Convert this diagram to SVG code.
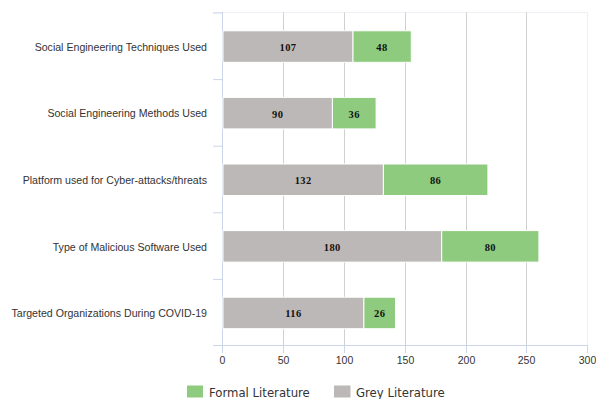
<svg xmlns="http://www.w3.org/2000/svg" width="596" height="399" viewBox="0 0 596 399">
  <style>
    .grid { stroke: #d0d0d0; stroke-width: 1; fill: none; }
    .frame { stroke: #eef1f6; stroke-width: 1; fill: none; }
    .axis { stroke: #ccd6eb; stroke-width: 1; fill: none; }
    .grey { fill: #bcb8b8; stroke: #ffffff; stroke-width: 1; }
    .green { fill: #8fcb7e; stroke: #ffffff; stroke-width: 1; }
    .cat { font-family: "Liberation Sans", Arial, sans-serif; font-size: 10.6px; fill: #333333; text-anchor: end; }
    .tick { font-family: "Liberation Sans", Arial, sans-serif; font-size: 10.5px; fill: #333333; text-anchor: middle; }
    .val { font-family: "Liberation Serif", "Times New Roman", serif; font-size: 10.5px; font-weight: bold; letter-spacing: 0.4px; fill: #111111; text-anchor: middle; }
    .leg { font-family: "DejaVu Sans", sans-serif; font-size: 11.7px; fill: #333333; }
  </style>
  <rect width="596" height="399" fill="#ffffff"/>

  <!-- plot frame and grid -->
  <g id="grid">
    <line class="frame" x1="213" y1="12.5" x2="588" y2="12.5"/>
    <line class="frame" x1="587.5" y1="12.5" x2="587.5" y2="345.5"/>
    <line class="grid" x1="283.5" y1="12.5" x2="283.5" y2="345.5"/>
    <line class="grid" x1="344.5" y1="12.5" x2="344.5" y2="345.5"/>
    <line class="grid" x1="405.5" y1="12.5" x2="405.5" y2="345.5"/>
    <line class="grid" x1="466.5" y1="12.5" x2="466.5" y2="345.5"/>
    <line class="grid" x1="526.5" y1="12.5" x2="526.5" y2="345.5"/>
  </g>

  <!-- axes with ticks -->
  <g id="axes">
    <line class="axis" x1="222.5" y1="12" x2="222.5" y2="346"/>
    <line class="axis" x1="213" y1="345.5" x2="588" y2="345.5"/>
    <path class="axis" d="M213 13H222.5M213 79.6H222.5M213 146.2H222.5M213 212.8H222.5M213 279.4H222.5"/>
    <path class="axis" d="M222.5 345.5V353M283.5 345.5V353M344.5 345.5V353M405.5 345.5V353M466.5 345.5V353M526.5 345.5V353M587.5 345.5V353"/>
  </g>

  <g id="x-labels">
    <text class="tick" x="222.5" y="364">0</text>
    <text class="tick" x="283.5" y="364">50</text>
    <text class="tick" x="344.5" y="364">100</text>
    <text class="tick" x="405.5" y="364">150</text>
    <text class="tick" x="466.5" y="364">200</text>
    <text class="tick" x="526.5" y="364">250</text>
    <text class="tick" x="587.5" y="364">300</text>
  </g>

  <!-- one group per category: label, grey segment, green segment -->
  <g id="social-engineering-techniques">
    <text class="cat" x="207" y="50.8">Social Engineering Techniques Used</text>
    <rect class="grey" x="223" y="30.8" width="130" height="31.5"/>
    <rect class="green" x="353" y="30.8" width="58.3" height="31.5"/>
    <text class="val" x="288" y="51">107</text>
    <text class="val" x="382" y="51">48</text>
  </g>

  <g id="social-engineering-methods">
    <text class="cat" x="207" y="117.4">Social Engineering Methods Used</text>
    <rect class="grey" x="223" y="97.4" width="109.4" height="31.5"/>
    <rect class="green" x="332.4" y="97.4" width="43.7" height="31.5"/>
    <text class="val" x="277.7" y="117.6">90</text>
    <text class="val" x="354.2" y="117.6">36</text>
  </g>

  <g id="platform-cyber-attacks">
    <text class="cat" x="207" y="184">Platform used for Cyber-attacks/threats</text>
    <rect class="grey" x="223" y="164" width="160.4" height="31.5"/>
    <rect class="green" x="383.4" y="164" width="104.5" height="31.5"/>
    <text class="val" x="303.2" y="184.2">132</text>
    <text class="val" x="435.6" y="184.2">86</text>
  </g>

  <g id="malicious-software">
    <text class="cat" x="207" y="250.6">Type of Malicious Software Used</text>
    <rect class="grey" x="223" y="230.6" width="218.7" height="31.5"/>
    <rect class="green" x="441.7" y="230.6" width="97.2" height="31.5"/>
    <text class="val" x="332.3" y="250.8">180</text>
    <text class="val" x="490.3" y="250.8">80</text>
  </g>

  <g id="targeted-organizations">
    <text class="cat" x="207" y="317.2">Targeted Organizations During COVID-19</text>
    <rect class="grey" x="223" y="297.2" width="140.9" height="31.5"/>
    <rect class="green" x="363.9" y="297.2" width="31.6" height="31.5"/>
    <text class="val" x="293.4" y="317.4">116</text>
    <text class="val" x="379.7" y="317.4">26</text>
  </g>

  <g id="legend">
    <rect x="187" y="385.5" width="16" height="12" fill="#8fcb7e"/>
    <text class="leg" x="209" y="396.5">Formal Literature</text>
    <rect x="334" y="385.5" width="16.5" height="12" fill="#bcb8b8"/>
    <text class="leg" x="356" y="396.5">Grey Literature</text>
  </g>
</svg>
